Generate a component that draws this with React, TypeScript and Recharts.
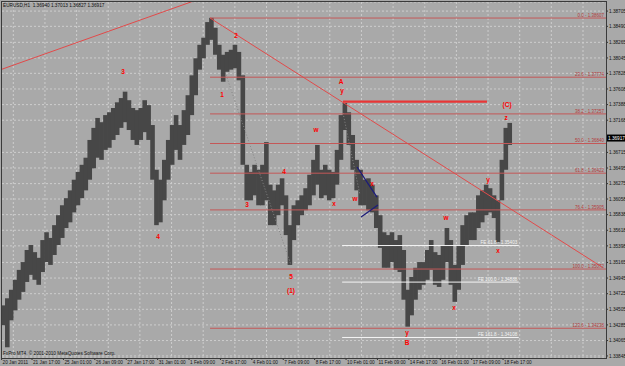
import React from 'react';
import { ComposedChart, Bar, XAxis, YAxis, CartesianGrid, ReferenceLine, ReferenceDot } from 'recharts';

const headerText = 'EURUSD,H1  1.36940 1.37013 1.36827 1.36917';
const copyrightText = 'FxPro MT4, \u00a9 2001-2010 MetaQuotes Software Corp.';

// hourly index (trading hours since 20 Jan 2011 00:00), 4-hour buckets
const firstHour = 12;
const hourStep = 4;
const highs = [
  1.3456, 1.3466, 1.3478, 1.3492, 1.3506, 1.3517, 1.3534, 1.3541, 1.3531, 1.3523,
  1.3548, 1.3559, 1.3551, 1.3569, 1.3583, 1.3597, 1.3607, 1.3618, 1.3633, 1.3644,
  1.3654, 1.3664, 1.3689, 1.3706, 1.3720, 1.3714, 1.3724, 1.3728, 1.3734, 1.3742,
  1.3748, 1.3757, 1.3745, 1.3734, 1.3731, 1.3734, 1.3745, 1.3738, 1.3710, 1.3647,
  1.3633, 1.3661, 1.3689, 1.3710, 1.3724, 1.3710, 1.3731, 1.3752, 1.3780, 1.3804,
  1.3823, 1.3833, 1.3855, 1.3861, 1.3847, 1.3823, 1.3809, 1.3813, 1.3816, 1.3823,
  1.3813, 1.3780, 1.3654, 1.3644, 1.3654, 1.3647, 1.3654, 1.3686, 1.3626, 1.3618,
  1.3626, 1.3635, 1.3611, 1.3569, 1.3597, 1.3604, 1.3611, 1.3621, 1.3640, 1.3661,
  1.3682, 1.3647, 1.3654, 1.3647, 1.3644, 1.3675, 1.3724, 1.3741, 1.3728, 1.3696,
  1.3661, 1.3647, 1.3633, 1.3635, 1.3626, 1.3611, 1.3583, 1.3559, 1.3555, 1.3559,
  1.3548, 1.3555, 1.3534, 1.3478, 1.3496, 1.3509, 1.3517, 1.3517, 1.3534, 1.3548,
  1.3531, 1.3527, 1.3541, 1.3565, 1.3548, 1.3513, 1.3541, 1.3569, 1.3583, 1.3587,
  1.3587, 1.3611, 1.3618, 1.3626, 1.3621, 1.3611, 1.3604, 1.3661, 1.3706, 1.3713,
];
const lows = [
  1.3428, 1.3397, 1.3435, 1.3449, 1.3464, 1.3475, 1.3489, 1.3499, 1.3492, 1.3485,
  1.3503, 1.3517, 1.3513, 1.3527, 1.3541, 1.3551, 1.3565, 1.3573, 1.3587, 1.3597,
  1.3607, 1.3618, 1.3633, 1.3649, 1.3664, 1.3661, 1.3675, 1.3678, 1.3689, 1.3696,
  1.3706, 1.3714, 1.3703, 1.3689, 1.3682, 1.3689, 1.3700, 1.3689, 1.3633, 1.3569,
  1.3573, 1.3604, 1.3633, 1.3654, 1.3675, 1.3661, 1.3682, 1.3696, 1.3724, 1.3752,
  1.3788, 1.3804, 1.3823, 1.3830, 1.3809, 1.3788, 1.3771, 1.3785, 1.3788, 1.3790,
  1.3773, 1.3654, 1.3604, 1.3604, 1.3611, 1.3597, 1.3597, 1.3604, 1.3569, 1.3569,
  1.3583, 1.3597, 1.3555, 1.3513, 1.3548, 1.3569, 1.3583, 1.3590, 1.3597, 1.3611,
  1.3626, 1.3607, 1.3611, 1.3604, 1.3607, 1.3626, 1.3661, 1.3703, 1.3682, 1.3647,
  1.3618, 1.3597, 1.3597, 1.3590, 1.3587, 1.3565, 1.3537, 1.3509, 1.3509, 1.3517,
  1.3506, 1.3503, 1.3464, 1.3426, 1.3442, 1.3464, 1.3478, 1.3485, 1.3492, 1.3506,
  1.3485, 1.3482, 1.3492, 1.3517, 1.3485, 1.3461, 1.3478, 1.3513, 1.3541, 1.3548,
  1.3548, 1.3565, 1.3573, 1.3583, 1.3587, 1.3579, 1.3545, 1.3604, 1.3647, 1.3682,
];

const timeTicks = [10, 41, 73, 105, 137, 169, 201, 233, 265, 297, 329, 361, 393, 425, 457, 489, 521];
const timeLabels = [
  '20 Jan 2011', '21 Jan 17:00', '25 Jan 01:00', '26 Jan 09:00', '27 Jan 17:00', '31 Jan 01:00',
  '1 Feb 09:00', '2 Feb 17:00', '4 Feb 01:00', '7 Feb 09:00', '8 Feb 17:00', '10 Feb 01:00',
  '11 Feb 09:00', '14 Feb 17:00', '16 Feb 01:00', '17 Feb 09:00', '18 Feb 17:00',
];

const priceTicks = [
  1.38705, 1.3849, 1.38265, 1.38045, 1.37828, 1.37608, 1.37388, 1.37168, 1.36715,
  1.36495, 1.36275, 1.36058, 1.35838, 1.35618, 1.35398, 1.35165, 1.34945, 1.34725, 1.34505,
  1.34285, 1.34065, 1.33848,
];
const lastPrice = 1.36917;

const fibRatios = ['0.0', '23.6', '38.2', '50.0', '61.8', '76.4', '100.0', '123.6'];
const fibPrices = [1.38607, 1.37774, 1.37257, 1.3684, 1.36422, 1.35905, 1.35072, 1.34238];
const fibStartHour = 222.4;
const fibEndHour = 626;
const fibLabelHour = 623.8;

const feRatios = ['61.8', '100.0', '161.8'];
const fePrices = [1.35403, 1.34888, 1.34108];
const feStartHour = 357;
const feEndHour = 537;
const feLabelHour = 535.5;

const waveTexts = ['3', '4', '1', '2', '3', '4', '5', '(1)', 'w', 'x', 'A', 'y', 'w', 'x', 'w', 'y', 'B', 'x', 'y', 'x', '(C)', 'z'];
const waveHours = [133.8, 169.4, 234.6, 248.9, 260.1, 297.8, 304.9, 304.9, 330.4, 348.8, 355.9, 356.9, 370.2, 387.5, 463.0, 423.2, 423.2, 471.1, 505.7, 515.9, 525.1, 524.1];
const wavePrices = [1.37847, 1.35523, 1.37523, 1.38354, 1.35974, 1.36438, 1.34959, 1.34762, 1.3703, 1.35988, 1.37706, 1.37579, 1.36058, 1.36269, 1.3579, 1.34171, 1.3403, 1.34523, 1.36326, 1.35326, 1.37382, 1.37199];

// [hour1, price1, hour2, price2]
const redTrendLines = [
  [10.1, 1.37885, 263.1, 1.39129],
  [222.4, 1.38607, 621.8, 1.35101],
];
const boldRedLine = [357.9, 1.37431, 504.6, 1.37431];
const blueLines = [
  [372.2, 1.36509, 392.5, 1.36086],
  [376.3, 1.35805, 393.5, 1.35974],
];
const dottedLines = [
  [238.7, 1.37805, 304.9, 1.35128],
  [357.9, 1.3727, 375.2, 1.36115],
];

const gridXs = Array.from({ length: 19 }, (_, k) => 13.3 + 31.65 * k);

const smallFont = 'Liberation Sans, Arial, sans-serif';

const data = highs.map((h, i) => ({ hour: firstHour + i * hourStep, range: [lows[i], h] }));

const renderTimeTick = (props: any) => {
  const { x, y, payload } = props;
  const i = timeTicks.indexOf(payload.value);
  return (
    <text x={x + 1} y={y + 3.6} fontSize={4.7} fontFamily={smallFont} fill="#141414">
      {timeLabels[i]}
    </text>
  );
};

const renderPriceTick = (props: any) => {
  const { x, y, payload } = props;
  return (
    <text x={x + 1} y={y + 1.7} fontSize={4.7} fontFamily={smallFont} fill="#141414">
      {Number(payload.value).toFixed(5)}
    </text>
  );
};

const renderRangeBar = (p: any) => {
  const cx = p.x + p.width / 2;
  return <rect x={cx - 2.3} y={p.y} width={4.6} height={Math.max(p.height, 1)} fill="#474747" />;
};

const seg = (l: number[]) => [
  { x: l[0], y: l[1] },
  { x: l[2], y: l[3] },
];

export default function App() {
  return (
    <div style={{ position: 'absolute', left: 0, top: 0, width: 625, height: 366, background: '#a9a9a9', overflow: 'hidden' }}>
      <ComposedChart width={625} height={366} data={data} margin={{ top: 2, right: 0, bottom: 0, left: 2 }}>
        <CartesianGrid stroke="#cdcdcd" strokeDasharray="2 2" verticalPoints={gridXs} />
        <XAxis
          type="number"
          dataKey="hour"
          domain={[10.4, 625.9]}
          allowDataOverflow
          ticks={timeTicks}
          interval={0}
          height={8}
          tickSize={2}
          tickMargin={0}
          axisLine={false}
          tickLine={{ stroke: '#333' }}
          tick={renderTimeTick}
        />
        <YAxis
          orientation="right"
          domain={[1.33819, 1.38833]}
          allowDataOverflow
          ticks={priceTicks}
          interval={0}
          width={19}
          tickSize={2}
          tickMargin={0}
          axisLine={false}
          tickLine={{ stroke: '#333' }}
          tick={renderPriceTick}
        />
        <Bar dataKey="range" fill="#474747" barSize={4} shape={renderRangeBar} isAnimationActive={false} />

        {dottedLines.map((l, i) => (
          <ReferenceLine key={'d' + i} segment={seg(l)} stroke="#858585" strokeDasharray="1 2" ifOverflow="hidden" />
        ))}
        {fibPrices.map((p, i) => (
          <ReferenceLine key={'f' + i} segment={[{ x: fibStartHour, y: p }, { x: fibEndHour, y: p }]} stroke="#c45858" strokeWidth={1} ifOverflow="hidden" />
        ))}
        {fePrices.map((p, i) => (
          <ReferenceLine key={'fe' + i} segment={[{ x: feStartHour, y: p }, { x: feEndHour, y: p }]} stroke="#f4f4f4" strokeWidth={1} ifOverflow="hidden" />
        ))}
        {redTrendLines.map((l, i) => (
          <ReferenceLine key={'r' + i} segment={seg(l)} stroke="#e24a4a" strokeWidth={1} ifOverflow="hidden" />
        ))}
        <ReferenceLine segment={seg(boldRedLine)} stroke="#e83636" strokeWidth={2.2} ifOverflow="hidden" />
        {blueLines.map((l, i) => (
          <ReferenceLine key={'b' + i} segment={seg(l)} stroke="#1c1c7a" strokeWidth={1.3} ifOverflow="hidden" />
        ))}

        {fibPrices.map((p, i) => (
          <ReferenceDot
            key={'fl' + i}
            x={fibLabelHour}
            y={p}
            r={0}
            ifOverflow="visible"
            shape={(sp: any) => (
              <text x={sp.cx} y={sp.cy - 1.2} textAnchor="end" fontSize={4.5} fontFamily={smallFont} fill="#b33c3c">
                {`${fibRatios[i]} - ${p.toFixed(5)}`}
              </text>
            )}
          />
        ))}
        {fePrices.map((p, i) => (
          <ReferenceDot
            key={'fel' + i}
            x={feLabelHour}
            y={p}
            r={0}
            ifOverflow="visible"
            shape={(sp: any) => (
              <text x={sp.cx} y={sp.cy - 1.5} textAnchor="end" fontSize={4.6} fontFamily={smallFont} fill="#f4f4f4">
                {`FE ${feRatios[i]} - ${p.toFixed(5)}`}
              </text>
            )}
          />
        ))}
        {waveTexts.map((t, i) => (
          <ReferenceDot
            key={'w' + i}
            x={waveHours[i]}
            y={wavePrices[i]}
            r={0}
            ifOverflow="visible"
            shape={(sp: any) => (
              <text x={sp.cx} y={sp.cy + 2.3} textAnchor="middle" fontSize={6.5} fontWeight="bold" fontFamily={smallFont} fill="#ff0000">
                {t}
              </text>
            )}
          />
        ))}
        <ReferenceDot
          x={625.9}
          y={lastPrice}
          r={0}
          ifOverflow="visible"
          shape={(sp: any) => (
            <g>
              <rect x={sp.cx + 1} y={sp.cy - 3.5} width={19} height={7} fill="#000" />
              <text x={sp.cx + 2} y={sp.cy + 1.7} fontSize={4.7} fontFamily={smallFont} fill="#fff">
                {lastPrice.toFixed(5)}
              </text>
            </g>
          )}
        />
      </ComposedChart>
      <div style={{ position: 'absolute', left: 1, top: 1, width: 604, height: 356, border: '1px solid #3a3a3a', pointerEvents: 'none' }} />
      <div style={{ position: 'absolute', left: 3, top: 2.6, fontSize: 4.7, lineHeight: '5px', fontFamily: smallFont, color: '#111', whiteSpace: 'pre' }}>
        {headerText}
      </div>
      <div style={{ position: 'absolute', left: 3, top: 350.5, fontSize: 4.7, lineHeight: '5px', fontFamily: smallFont, color: '#111', whiteSpace: 'pre' }}>
        {copyrightText}
      </div>
    </div>
  );
}
